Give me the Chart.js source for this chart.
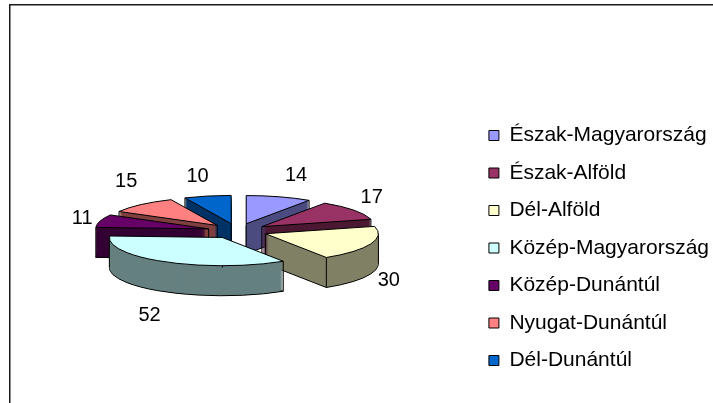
<!DOCTYPE html>
<html>
<head>
<meta charset="utf-8">
<style>
  html, body { margin: 0; padding: 0; background: #fff; }
  canvas { display: block; }
</style>
<script src="https://cdn.jsdelivr.net/npm/chart.js@4/dist/chart.umd.min.js"></script>
</head>
<body>
<canvas id="chart" width="713" height="403"></canvas>
<script>
// ── Data ────────────────────────────────────────
const regions = ['Észak-Magyarország', 'Észak-Alföld', 'Dél-Alföld', 'Közép-Magyarország', 'Közép-Dunántúl', 'Nyugat-Dunántúl', 'Dél-Dunántúl'];
const counts = [14, 17, 30, 52, 11, 15, 10];
const topColors = ['#9999FF', '#993366', '#FFFFCC', '#CCFFFF', '#660066', '#FF8080', '#0066CC'];
const sideColors = ['#4C4C80', '#4C1933', '#808066', '#668080', '#330033', '#804040', '#003366'];

// ── 3D look ─────────────────────────────────────
const SQUASH = 0.25;
const DEPTH = 30;
const LIFT = 17;
// label distance from the rim of each slice
const labelGaps = [[17, -21], [18, -13], [18, 37], [-16, 54], [-18, -2], [-15, -23], [-10, -20]];

function slicePath(ctx, a, dy) {
    const mid = (a.startAngle + a.endAngle) / 2;
    const x = a.x + Math.cos(mid) * a.options.offset;
    const y = a.y - LIFT + dy + Math.sin(mid) * a.options.offset * SQUASH;
    const r = a.outerRadius;
    ctx.beginPath();
    ctx.moveTo(x, y);
    ctx.ellipse(x, y, r, r * SQUASH, 0, a.startAngle, a.endAngle);
    ctx.closePath();
    return { x, y, r, mid };
}

// rim angles that get a vertical edge: front corners, the left/right extreme
// if the rim passes it, otherwise the outermost back corner
function edgeAngles(a) {
    const tau = Math.PI * 2;
    const has = t => t + Math.ceil((a.startAngle - t) / tau) * tau <= a.endAngle;
    const extremes = [0, Math.PI].filter(has);
    const ends = [a.startAngle, a.endAngle];
    const out = ends.filter(t => Math.sin(t) > 0);
    if (extremes.length) return out.concat(extremes);
    const outer = Math.abs(Math.cos(ends[0])) > Math.abs(Math.cos(ends[1])) ? ends[0] : ends[1];
    if (!out.includes(outer)) out.push(outer);
    return out;
}

const pie3d = {
    id: 'pie3d',
    beforeDraw(chart) {
        const ctx = chart.ctx;
        ctx.save();
        ctx.strokeStyle = '#1a1a1a';
        ctx.lineWidth = 1.5;
        ctx.beginPath();
        ctx.moveTo(9.75, chart.height);
        ctx.lineTo(9.75, 4.75);
        ctx.lineTo(chart.width, 4.75);
        ctx.stroke();
        ctx.restore();
    },
    beforeDatasetsDraw(chart) {
        const ctx = chart.ctx;
        const arcs = chart.getDatasetMeta(0).data;
        const order = arcs.map((a, i) => i).sort((p, q) => {
            const mp = (arcs[p].startAngle + arcs[p].endAngle) / 2;
            const mq = (arcs[q].startAngle + arcs[q].endAngle) / 2;
            return Math.sin(mp) - Math.sin(mq);
        });

        ctx.save();
        ctx.lineWidth = 1;
        ctx.lineJoin = 'round';
        ctx.strokeStyle = '#000';
        order.forEach(i => {
            const a = arcs[i];
            // bottom outline first, the wall layers cover its upper part
            ctx.fillStyle = sideColors[i];
            slicePath(ctx, a, DEPTH);
            ctx.fill();
            ctx.stroke();
            for (let d = DEPTH - 1; d > 0; d--) {
                slicePath(ctx, a, d);
                ctx.fill();
            }

            // vertical edges
            const p = slicePath(ctx, a, 0);
            ctx.beginPath();
            ctx.moveTo(p.x, p.y);
            ctx.lineTo(p.x, p.y + DEPTH);
            edgeAngles(a).forEach(t => {
                const cx = p.x + Math.cos(t) * p.r;
                const cy = p.y + Math.sin(t) * p.r * SQUASH;
                ctx.moveTo(cx, cy);
                ctx.lineTo(cx, cy + DEPTH);
            });
            ctx.stroke();

            ctx.fillStyle = topColors[i];
            slicePath(ctx, a, 0);
            ctx.fill();
            ctx.stroke();
        });

        // value labels
        ctx.fillStyle = '#000';
        ctx.font = '20px "Liberation Sans", Arial, sans-serif';
        ctx.textAlign = 'center';
        ctx.textBaseline = 'middle';
        arcs.forEach((a, i) => {
            const mid = (a.startAngle + a.endAngle) / 2;
            const off = a.options.offset + a.outerRadius;
            const x = a.x + Math.cos(mid) * off + labelGaps[i][0];
            const y = a.y - LIFT + Math.sin(mid) * off * SQUASH + labelGaps[i][1];
            ctx.fillText(String(counts[i]), x, y);
        });
        ctx.restore();
        return false;
    }
};

new Chart(document.getElementById('chart'), {
    type: 'pie',
    data: {
        labels: regions,
        datasets: [{
            data: counts,
            backgroundColor: topColors,
            borderColor: '#000',
            borderWidth: 1,
            offset: 30
        }]
    },
    options: {
        responsive: false,
        animation: false,
        radius: 113,
        layout: { padding: { top: 93, left: 2.5, right: -6 } },
        plugins: {
            tooltip: { enabled: false },
            legend: {
                position: 'right',
                labels: {
                    boxWidth: 10,
                    boxHeight: 10,
                    padding: 16.5,
                    color: '#000',
                    font: { family: '"Liberation Sans", Arial, sans-serif', size: 21 }
                }
            }
        }
    },
    plugins: [pie3d]
});
</script>
</body>
</html>
